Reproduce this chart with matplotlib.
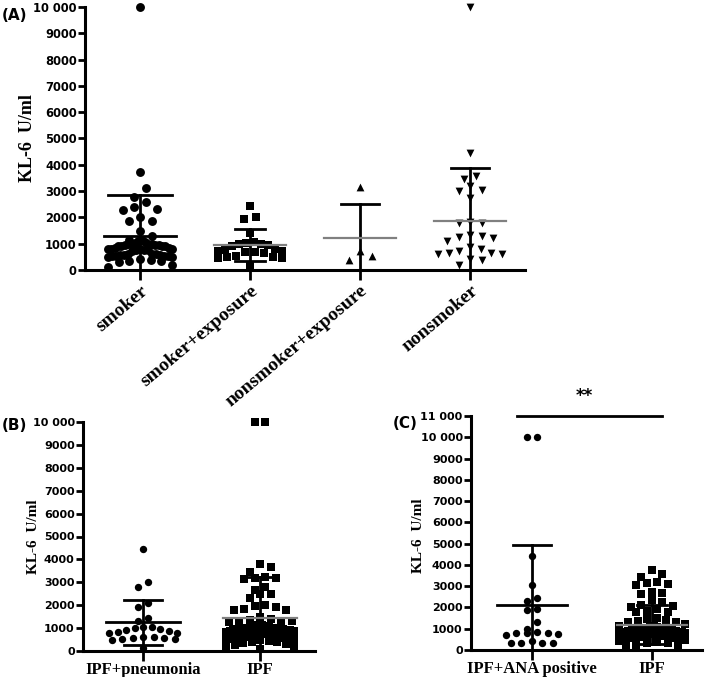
import numpy as np
import matplotlib.pyplot as plt

# ---- data (KL-6, U/ml) ----
groups_a = ['smoker', 'smoker+exposure', 'nonsmoker+exposure', 'nonsmoker']
smoker = [10000, 3740, 3110, 2790, 2600, 2410, 2320, 2280, 2000, 1880, 1880, 1480, 1290,
          1150, 1130, 1100, 1080,
          1020, 1000, 990, 980, 970, 960, 950, 940, 930, 920, 910, 900,
          850, 830, 810, 800, 790, 780, 770, 760, 750, 740,
          620, 600, 590, 580, 570, 560, 550, 540, 530, 520, 510, 500,
          400, 370, 350, 330, 310,
          200, 120]
smoker_exposure = [2430, 2000, 1930, 1400, 1050, 1020, 1000, 980, 950, 900,
                   800, 760, 740, 720, 700, 680, 650, 550, 500, 480, 460, 440, 150]
nonsmoker_exposure = [3140, 720, 545, 380]
nonsmoker = [10000, 4440, 3570, 3450, 3190, 3040, 3020, 2730, 1820, 1800, 1790,
             1330, 1300, 1270, 1230, 1100, 870, 800, 720, 650, 640, 620, 600, 400, 380, 190]
means_a = [1290, 950, 1210, 1880]
sds_a = [1560, 600, 1300, 2010]

groups_b = ['IPF+pneumonia', 'IPF']
ipf_pneumonia = [4440, 3030, 2810, 2110, 1910, 1450, 1320, 1060, 1040, 1020, 980, 920,
                 880, 840, 800, 780, 620, 600, 580, 560, 540, 520, 500, 150]
ipf_b = [10000, 10000, 3790, 3660, 3470, 3230, 3200, 3180, 3150, 2810, 2660, 2480, 2480, 2300,
         2000, 1950, 1900, 1820, 1800, 1780, 1500, 1380, 1350, 1330, 1300, 1300, 1280,
         1150, 1120, 1100, 1080, 1060, 1040, 1020, 1000, 990, 980, 970, 960, 950, 940, 930,
         920, 900, 880, 860, 840, 820, 800,
         780, 760, 740, 720, 700, 690, 680, 660, 640, 620, 610, 600, 590, 580, 570, 560,
         550, 540, 530, 520, 510, 500,
         470, 440, 410, 380, 350, 320,
         260, 200, 150, 100]
means_b = [1250, 1460]
sds_b = [980, 1770]

groups_c = ['IPF+ANA positive', 'IPF']
ipf_ana = [10000, 10000, 4430, 3050, 2430, 2320, 1930, 1880, 1300, 1000, 860, 820, 800,
           780, 730, 700, 420, 350, 330, 320, 350]
ipf_c = [3750, 3550, 3450, 3200, 3150, 3100, 3050, 2750, 2700, 2650, 2350, 2250, 2100,
         2050, 2000, 1950, 1850, 1800, 1800, 1500, 1450, 1400, 1350, 1300, 1300,
         1200, 1150, 1120, 1100, 1080, 1050, 1030, 1000, 990, 980, 970, 960, 950, 940,
         930, 920, 900, 880, 860, 850, 840, 820, 800,
         780, 760, 740, 720, 700, 680, 660, 640, 620, 600, 590, 580, 570, 560, 550, 540,
         530, 520, 500,
         460, 420, 380, 350, 320,
         250, 200, 120]
means_c = [2120, 1190]
sds_c = [2820, 930]

SERIF = 'Liberation Serif'
SANS = 'DejaVu Sans'


def scatter_rows(ax, x0, values, row_h, step, max_w):
    """GraphPad-like column scatter: points binned into rows, highest in the middle"""
    vals = np.asarray(values, float)
    ypix = ax.transData.transform(np.column_stack([np.full(len(vals), x0), vals]))[:, 1]
    unit = ax.transData.transform([(1, 0)])[0, 0] - ax.transData.transform([(0, 0)])[0, 0]
    order = list(np.argsort(-vals, kind='stable'))
    xoff = np.zeros(len(vals))
    rows = []
    while order:
        top = ypix[order[0]]
        row = [i for i in order if top - ypix[i] < row_h]
        order = [i for i in order if i not in row]
        rows.append(row)
    for row in rows:
        n = len(row)
        s = step if n < 2 else min(step, max_w / (n - 1))
        if n % 2:
            slots = [0]
            for k in range(1, n // 2 + 1):
                slots += [k, -k]
        else:
            slots = []
            for k in range(n // 2):
                slots += [k + 0.5, -(k + 0.5)]
        for i, sl in zip(row, slots):
            xoff[i] = sl * s
    return x0 + xoff / unit


def style(ax, ymax, ticksize):
    for s in ['top', 'right']:
        ax.spines[s].set_visible(False)
    for s in ['left', 'bottom']:
        ax.spines[s].set_linewidth(2.2)
    ax.set_ylim(0, ymax)
    ax.set_yticks(range(0, ymax + 1, 1000))
    ax.set_yticklabels([f'{v:,}'.replace(',', ' ') if v >= 10000 else str(v)
                        for v in range(0, ymax + 1, 1000)],
                       fontfamily=SANS, fontweight='bold', fontsize=ticksize)
    ax.tick_params(axis='y', direction='out', length=5, width=2, pad=1)
    ax.tick_params(axis='x', direction='out', length=7, width=2)


def draw_group(ax, x0, values, mean, sd, marker, ms, row_h, step, max_w,
               mean_col, mean_w, cap_w):
    xs = scatter_rows(ax, x0, values, row_h, step, max_w)
    ax.scatter(xs, values, marker=marker, s=ms ** 2, color='black', linewidths=0,
               zorder=2, clip_on=False)
    ax.plot([x0, x0], [mean - sd, mean + sd], color='black', lw=2, zorder=3)
    ax.plot([x0 - cap_w / 2, x0 + cap_w / 2], [mean + sd] * 2, color='black', lw=2, zorder=3)
    if mean - sd > 0:
        ax.plot([x0 - cap_w / 2, x0 + cap_w / 2], [mean - sd] * 2, color='black', lw=2, zorder=3)
    ax.plot([x0 - mean_w / 2, x0 + mean_w / 2], [mean] * 2, color=mean_col,
            lw=2 if mean_col == 'black' else 1.6, zorder=4)


fig = plt.figure(figsize=(7.09, 6.77), dpi=100)
W, H = 709, 677


def box(x0, y0, x1, y1):
    return [x0 / W, 1 - y1 / H, (x1 - x0) / W, (y1 - y0) / H]


# ---- panel A ----
axA = fig.add_axes(box(85, 7, 525, 270))
axA.set_xlim(-0.5, 3.5)
style(axA, 10000, 8.3)
data_a = [smoker, smoker_exposure, nonsmoker_exposure, nonsmoker]
markers_a = ['o', 's', '^', 'v']
ms_a = [6.4, 5.8, 5.6, 5.6]
mean_cols_a = ['black', 'gray', 'gray', 'gray']
caps_a = [0.59, 0.27, 0.34, 0.35]
for i, vals in enumerate(data_a):
    draw_group(axA, i, vals, means_a[i], sds_a[i], markers_a[i], ms_a[i], 9.0, 11.5, 64,
               mean_cols_a[i], 0.66, caps_a[i])
axA.set_xticks(range(len(groups_a)))
axA.set_xticklabels(groups_a, rotation=40, ha='right', va='top', rotation_mode='anchor',
                    fontfamily=SERIF, fontweight='bold', fontsize=14)
axA.tick_params(axis='x', pad=2)
axA.set_ylabel('KL-6  U/ml', fontfamily=SERIF, fontweight='bold', fontsize=13)
axA.yaxis.set_label_coords(-0.112, 0.5)

# ---- panel B ----
axB = fig.add_axes(box(83, 422, 315, 651))
axB.set_xlim(-0.513, 1.47)
style(axB, 10000, 8.0)
data_b = [ipf_pneumonia, ipf_b]
markers_b = ['o', 's']
ms_b = [5.3, 5.7]
mean_cols_b = ['black', 'gray']
caps_b = [0.33, 0.27]
for i, vals in enumerate(data_b):
    draw_group(axB, i, vals, means_b[i], sds_b[i], markers_b[i], ms_b[i], 7.5, 10.5, 68,
               mean_cols_b[i], 0.64, caps_b[i])
axB.set_xticks(range(len(groups_b)))
axB.set_xticklabels(groups_b, fontfamily=SERIF, fontweight='bold', fontsize=12)
axB.tick_params(axis='x', pad=1)
axB.set_ylabel('KL-6  U/ml', fontfamily=SERIF, fontweight='bold', fontsize=11)
axB.yaxis.set_label_coords(-0.185, 0.5)

# ---- panel C ----
axC = fig.add_axes(box(471, 416, 702, 650))
axC.set_xlim(-0.508, 1.417)
style(axC, 11000, 8.0)
data_c = [ipf_ana, ipf_c]
markers_c = ['o', 's']
ms_c = [5.3, 5.7]
mean_cols_c = ['black', 'gray']
caps_c = [0.32, 0.25]
for i, vals in enumerate(data_c):
    draw_group(axC, i, vals, means_c[i], sds_c[i], markers_c[i], ms_c[i], 7.5, 10.5, 66,
               mean_cols_c[i], 0.58, caps_c[i])
axC.set_xticks(range(len(groups_c)))
axC.set_xticklabels(groups_c, fontfamily=SERIF, fontweight='bold', fontsize=12)
axC.tick_params(axis='x', pad=1)
axC.set_ylabel('KL-6  U/ml', fontfamily=SERIF, fontweight='bold', fontsize=11)
axC.yaxis.set_label_coords(-0.2, 0.49)
# significance bar
axC.plot([-0.125, 1.083], [11000, 11000], color='black', lw=2, clip_on=False)
axC.annotate('**', xy=(0.44, 11000), xytext=(0, 8), textcoords='offset points',
             ha='center', va='bottom', fontsize=12, fontweight='bold', fontfamily=SANS)

# panel letters
for lab, (px, py) in zip(['(A)', '(B)', '(C)'], [(15, 15), (14, 426), (405, 424)]):
    fig.text(px / W, 1 - py / H, lab, ha='center', va='center',
             fontfamily=SANS, fontweight='bold', fontsize=11)

fig.savefig('out.png', dpi=100)
